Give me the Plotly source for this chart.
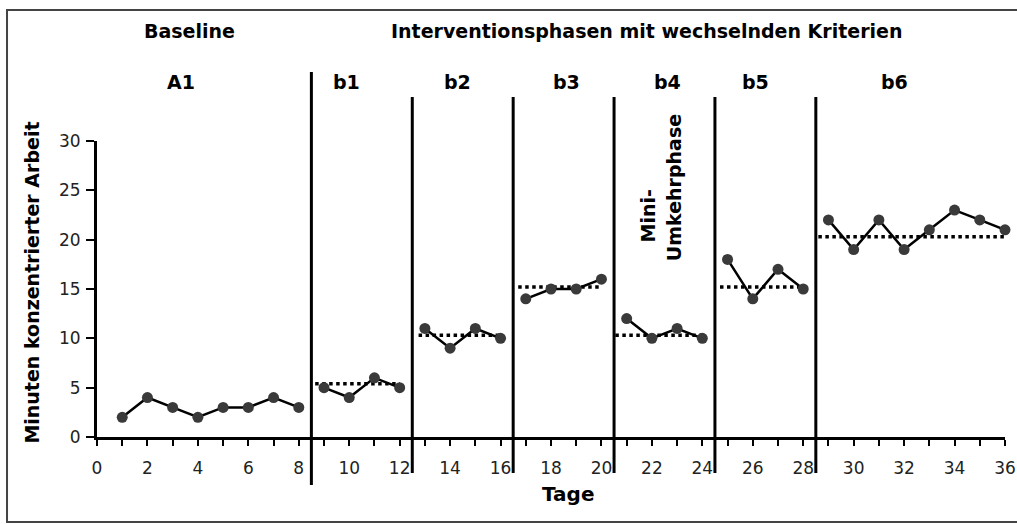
import plotly.graph_objects as go

# ---- data ----
days_A1 = [1, 2, 3, 4, 5, 6, 7, 8]
vals_A1 = [2, 4, 3, 2, 3, 3, 4, 3]
days_b1 = [9, 10, 11, 12]
vals_b1 = [5, 4, 6, 5]
days_b2 = [13, 14, 15, 16]
vals_b2 = [11, 9, 11, 10]
days_b3 = [17, 18, 19, 20]
vals_b3 = [14, 15, 15, 16]
days_b4 = [21, 22, 23, 24]
vals_b4 = [12, 10, 11, 10]
days_b5 = [25, 26, 27, 28]
vals_b5 = [18, 14, 17, 15]
days_b6 = [29, 30, 31, 32, 33, 34, 35, 36]
vals_b6 = [22, 19, 22, 19, 21, 23, 22, 21]

crit_start = [8.65, 12.75, 16.7, 20.55, 24.7, 28.6]
crit_end = [12.0, 16.0, 20.0, 24.0, 28.0, 36.0]
crit_level = [5.4, 10.3, 15.2, 10.3, 15.2, 20.3]

phase_bounds = [8.5, 12.5, 16.5, 20.5, 24.5, 28.5]
phase_labels = ["A1", "b1", "b2", "b3", "b4", "b5", "b6"]
phase_label_x = [3.35, 9.9, 14.3, 18.6, 22.6, 26.1, 31.6]

x_tickvals = list(range(0, 37))
x_ticktext = [str(v) if v % 2 == 0 else "" for v in x_tickvals]
y_tickvals = [0, 5, 10, 15, 20, 25, 30]

# ---- build ----
phases = [(days_A1, vals_A1), (days_b1, vals_b1), (days_b2, vals_b2),
          (days_b3, vals_b3), (days_b4, vals_b4), (days_b5, vals_b5),
          (days_b6, vals_b6)]
xs, ys = [], []
for d, v in phases:
    xs += d + [None]
    ys += v + [None]

cx, cy = [], []
for s, e, l in zip(crit_start, crit_end, crit_level):
    cx += [s, e, None]
    cy += [l, l, None]

fig = go.Figure()
fig.add_trace(go.Scatter(x=cx, y=cy, mode="lines",
                         line=dict(color="black", width=3.5, dash="dot"),
                         hoverinfo="skip", showlegend=False))
fig.add_trace(go.Scatter(x=xs, y=ys, mode="lines+markers",
                         line=dict(color="black", width=2.5),
                         marker=dict(color="#3a3a3a", size=11),
                         cliponaxis=False, showlegend=False))

shapes = []
for i, b in enumerate(phase_bounds):
    top = 1.233 if i == 0 else 1.149
    bot = -0.162 if i == 0 else -0.122
    shapes.append(dict(type="line", xref="x", yref="paper", x0=b, x1=b,
                       y0=bot, y1=top, line=dict(color="black", width=3)))
# outer frame (open on the right, as in the original)
shapes.append(dict(type="path", xref="paper", yref="paper",
                   path="M 1.06,-0.287 L -0.0991,-0.287 L -0.0991,1.4426 L 1.06,1.4426",
                   line=dict(color="#444", width=2), layer="below"))

BF = dict(family="DejaVu Sans", size=19, color="black", weight="bold")
ann = []
ann.append(dict(text="Baseline", x=3.65, y=1.372, xref="x", yref="paper",
                showarrow=False, font=BF, xanchor="center", yanchor="middle"))
ann.append(dict(text="Interventionsphasen mit wechselnden Kriterien", x=21.8, y=1.372,
                xref="x", yref="paper", showarrow=False, font=BF,
                xanchor="center", yanchor="middle"))
for lab, lx in zip(phase_labels, phase_label_x):
    ann.append(dict(text=lab, x=lx, y=1.199, xref="x", yref="paper",
                    showarrow=False, font=BF, xanchor="center", yanchor="middle"))
ann.append(dict(text="Tage", x=18.66, y=-0.193, xref="x", yref="paper",
                showarrow=False, font=dict(family="DejaVu Sans", size=20, color="black", weight="bold"),
                xanchor="center", yanchor="middle"))
ann.append(dict(text="Minuten konzentrierter Arbeit", x=-0.071, y=0.52,
                xref="paper", yref="paper", showarrow=False, textangle=-90,
                font=BF, xanchor="center", yanchor="middle"))
ann.append(dict(text="Mini-", x=21.83, y=0.747, xref="x", yref="paper",
                showarrow=False, textangle=-90, font=BF,
                xanchor="center", yanchor="middle"))
ann.append(dict(text="Umkehrphase", x=22.88, y=0.841, xref="x", yref="paper",
                showarrow=False, textangle=-90, font=BF,
                xanchor="center", yanchor="middle"))

fig.update_layout(
    width=1017, height=524,
    margin=dict(l=97, r=12, t=141, b=87, autoexpand=False),
    plot_bgcolor="white", paper_bgcolor="white",
    shapes=shapes, annotations=ann, showlegend=False,
    xaxis=dict(range=[0, 36], showgrid=False, zeroline=False, automargin=False,
               showline=True, linecolor="black", linewidth=3,
               tickmode="array", tickvals=x_tickvals, ticktext=x_ticktext,
               ticks="outside", ticklen=6, tickwidth=2, tickcolor="black",
               ticklabelstandoff=8,
               tickfont=dict(family="DejaVu Sans", size=17, color="#222")),
    yaxis=dict(range=[0, 30], showgrid=False, zeroline=False, automargin=False,
               showline=True, linecolor="black", linewidth=3,
               tickmode="array", tickvals=y_tickvals,
               ticks="outside", ticklen=8, tickwidth=2, tickcolor="black",
               ticklabelstandoff=2,
               tickfont=dict(family="DejaVu Sans", size=17, color="#222")),
)

fig.write_html("out.html",
               config={"displayModeBar": False},
               post_script="document.body.style.margin='0';document.body.style.padding='0';")
